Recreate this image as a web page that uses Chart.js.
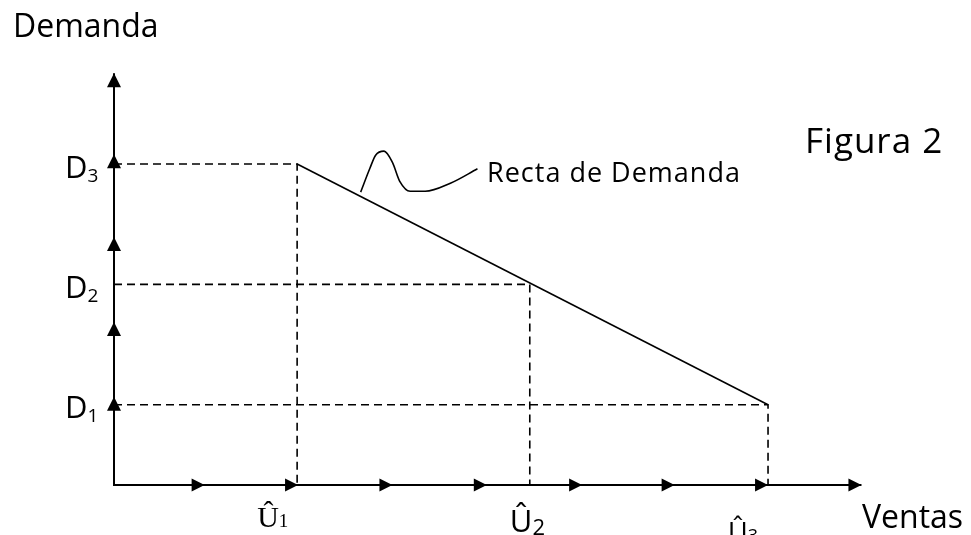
<!DOCTYPE html>
<html>
<head>
<meta charset="utf-8">
<script src="https://cdn.jsdelivr.net/npm/chart.js@4.4.1/dist/chart.umd.min.js"></script>
<style>
  html, body { margin: 0; padding: 0; background: #fff; }
  canvas { display: block; }
</style>
</head>
<body>
<canvas id="chart" width="971" height="535"></canvas>
<script>
// values (x: sales units, y: demand units)
const demandLevels = [1, 2.5, 4];          // D1, D2, D3
const salesLevels = [1.96, 4.45, 7];       // Û1, Û2, Û3
const demandNames = ['1', '2', '3'];
const salesNames = ['1', '2', '3'];
const xArrowTips = [0.97, 1.97, 2.98, 3.99, 5.01, 6.0, 7.0, 8.0];
const yArrowTips = [1.1, 2.03, 3.09, 4.12, 5.13];
const calloutX = [2.64, 2.74, 2.80, 2.89, 2.98, 3.06, 3.17, 3.33, 3.60, 3.89];
const calloutY = [3.65, 3.95, 4.11, 4.16, 4.02, 3.78, 3.66, 3.66, 3.76, 3.94];

const SANS = '"Open Sans", sans-serif';
const SERIF = '"Liberation Serif", "Times New Roman", serif';

// straight demand line from (Û1, D3) to (Û3, D1)
const demandLine = [
  { x: salesLevels[0], y: demandLevels[2] },
  { x: salesLevels[2], y: demandLevels[0] }
];

// dashed guides: horizontal from the y axis, then down to the x axis
const guides = demandLevels.map((d, i) => {
  const u = salesLevels[salesLevels.length - 1 - i];
  return {
    data: [{ x: 0, y: d }, { x: u, y: d }, { x: u, y: 0 }],
    borderColor: '#000',
    borderWidth: 1.6,
    borderDash: [8, 5],
    pointRadius: 0,
    fill: false,
    clip: false
  };
});

const axes = {
  data: [{ x: 0, y: yArrowTips[yArrowTips.length - 1] }, { x: 0, y: 0 }, { x: xArrowTips[xArrowTips.length - 1], y: 0 }],
  borderColor: '#000',
  borderWidth: 2,
  pointRadius: 0,
  fill: false,
  clip: false
};

const callout = {
  data: calloutX.map((x, i) => ({ x, y: calloutY[i] })),
  borderColor: '#000',
  borderWidth: 1.6,
  pointRadius: 0,
  cubicInterpolationMode: 'monotone',
  fill: false,
  clip: false
};

const arrowPlugin = {
  id: 'arrowHeads',
  afterDatasetsDraw(chart) {
    const { ctx, scales: { x, y } } = chart;
    const x0 = x.getPixelForValue(0), y0 = y.getPixelForValue(0);
    ctx.save();
    ctx.fillStyle = '#000';
    xArrowTips.forEach(v => {
      const px = x.getPixelForValue(v);
      ctx.beginPath();
      ctx.moveTo(px, y0);
      ctx.lineTo(px - 13, y0 - 6.5);
      ctx.lineTo(px - 13, y0 + 6.5);
      ctx.closePath();
      ctx.fill();
    });
    yArrowTips.forEach(v => {
      const py = y.getPixelForValue(v);
      ctx.beginPath();
      ctx.moveTo(x0, py);
      ctx.lineTo(x0 - 7, py + 14);
      ctx.lineTo(x0 + 7, py + 14);
      ctx.closePath();
      ctx.fill();
    });
    ctx.restore();
  }
};

const labelPlugin = {
  id: 'labels',
  afterDraw(chart) {
    const { ctx, scales: { x, y } } = chart;
    const x0 = x.getPixelForValue(0);
    ctx.save();
    ctx.fillStyle = '#000';
    ctx.textBaseline = 'alphabetic';
    ctx.textAlign = 'left';

    // D1..D3 on the demand axis
    demandLevels.forEach((d, i) => {
      const py = y.getPixelForValue(d) + 13.5;
      ctx.font = '31px ' + SANS;
      const lx = x0 - 49;
      ctx.fillText('D', lx, py);
      const w = ctx.measureText('D').width;
      ctx.font = '19px ' + SANS;
      ctx.fillText(demandNames[i], lx + w, py + 4);
    });

    // Û1..Û3 under the sales axis (first one in a serif face, like the original)
    const uStyles = [
      { font: SERIF, size: 30, sub: 19, dx: -40, base: 527, subDy: 0 },
      { font: SANS, size: 31, sub: 22, dx: -20, base: 532, subDy: 3 },
      { font: SANS, size: 27, sub: 18, dx: -40, base: 542, subDy: 0 }
    ];
    salesLevels.forEach((u, i) => {
      const s = uStyles[i];
      const px = x.getPixelForValue(u) + s.dx;
      ctx.font = s.size + 'px ' + s.font;
      ctx.fillText('\u00DB', px, s.base);
      const w = ctx.measureText('\u00DB').width;
      ctx.font = s.sub + 'px ' + s.font;
      ctx.fillText(salesNames[i], px + w, s.base + s.subDy);
    });

    ctx.font = '32px ' + SANS;
    ctx.fillText('Demanda', 13, 37);
    ctx.fillText('Ventas', 862, 528);

    ctx.font = '35px ' + SANS;
    ctx.letterSpacing = '1px';
    ctx.fillText('Figura 2', 805, 153);

    ctx.font = '27px ' + SANS;
    ctx.fillText('Recta de Demanda', 487, 182);
    ctx.restore();
  }
};

new Chart(document.getElementById('chart').getContext('2d'), {
  type: 'line',
  data: {
    datasets: [
      axes,
      ...guides,
      {
        data: demandLine,
        borderColor: '#000',
        borderWidth: 1.6,
        pointRadius: 0,
        fill: false,
        clip: false
      },
      callout
    ]
  },
  options: {
    responsive: false,
    animation: false,
    devicePixelRatio: 1,
    layout: { padding: { left: 114, right: 16.1, top: 3.5, bottom: 50 } },
    scales: {
      x: { type: 'linear', min: 0, max: 9, display: false },
      y: { type: 'linear', min: 0, max: 6, display: false }
    },
    plugins: { legend: { display: false }, tooltip: { enabled: false } },
    elements: { line: { tension: 0 } }
  },
  plugins: [arrowPlugin, labelPlugin]
});
</script>
</body>
</html>
